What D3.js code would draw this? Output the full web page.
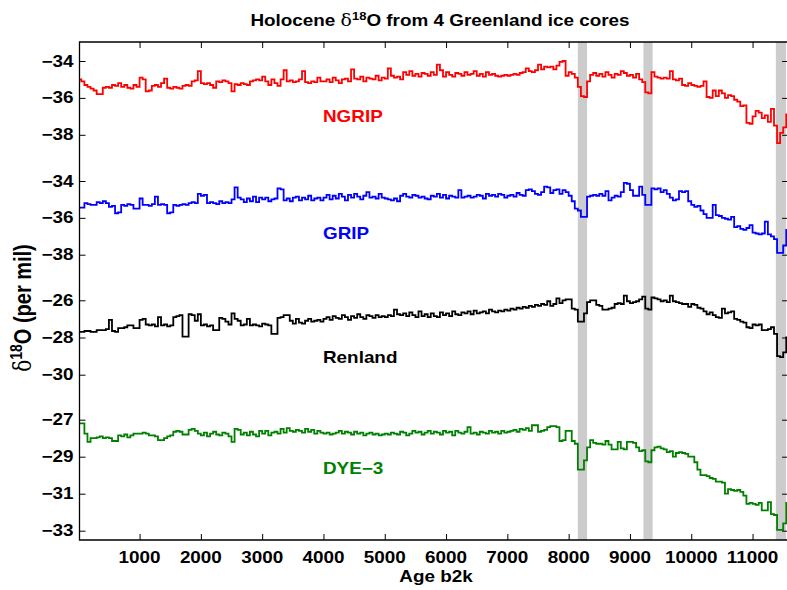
<!DOCTYPE html>
<html>
<head>
<meta charset="utf-8">
<script src="https://cdn.jsdelivr.net/npm/d3@7"></script>
<style>
  body { margin: 0; background: #fff; }
  svg text { font-family: "Liberation Sans", Arial, Helvetica, sans-serif; font-weight: bold; fill: #000; }
</style>
</head>
<body>
<svg id="chart" width="787" height="590"></svg>
<script>
// Age axis: 50-year bins, years before 2000 AD
const ages = d3.range(0, 11600, 50);

// δ18O (per mil), one value per 50-year bin
const ngrip = [
  -35.0,-35.1,-35.3,-35.4,-35.5,-35.6,-35.8,-35.8,-35.45,-35.4,-35.45,-35.3,-35.35,-35.2,-35.4,-35.3,-35.45,-35.5,-35.3,-35.4,
  -34.9,-35.0,-35.65,-35.6,-35.35,-35.3,-35.4,-35.2,-34.95,-35.45,-35.5,-35.4,-35.45,-35.5,-35.35,-35.3,-35.35,-35.1,-35.05,-34.55,
  -35.2,-35.25,-35.2,-35.3,-35.45,-35.1,-35.15,-35.05,-35.1,-35.2,-35.65,-35.25,-35.3,-35.2,-35.25,-35.3,-35.1,-35.05,-35.0,-35.05,
  -34.85,-35.1,-35.3,-35.0,-35.2,-35.35,-35.0,-34.5,-35.1,-35.05,-35.15,-35.1,-35.0,-34.55,-35.15,-35.2,-35.1,-35.15,-34.9,-35.1,
  -35.1,-35.0,-35.15,-34.9,-35.05,-35.2,-35.0,-34.95,-35.1,-34.45,-34.95,-35.0,-34.85,-35.1,-34.9,-34.95,-35.0,-34.8,-35.05,-34.9,
  -34.95,-34.4,-34.8,-34.9,-34.85,-35.0,-34.6,-34.75,-34.55,-34.8,-34.7,-34.85,-34.65,-34.7,-34.8,-34.6,-34.75,-34.2,-34.5,-34.85,
  -34.6,-34.75,-34.85,-34.65,-34.7,-34.8,-34.6,-34.75,-34.7,-34.55,-34.8,-34.7,-34.85,-34.6,-34.75,-34.7,-34.8,-34.85,-34.8,-34.75,
  -34.8,-34.75,-34.7,-34.75,-34.65,-34.6,-34.4,-34.55,-34.6,-34.5,-34.2,-34.45,-34.3,-34.35,-34.3,-34.45,-34.25,-34.05,-34.0,-34.8,
  -34.6,-34.7,-34.9,-35.4,-35.9,-35.95,-35.1,-34.75,-34.65,-34.8,-34.7,-34.85,-34.6,-34.75,-34.9,-34.7,-34.75,-34.55,-34.65,-34.8,
  -34.75,-34.9,-34.7,-35.0,-35.15,-35.7,-35.75,-34.6,-34.85,-34.9,-34.95,-34.9,-34.95,-34.55,-35.0,-35.05,-34.95,-35.3,-35.35,-35.2,
  -35.3,-35.35,-35.4,-35.35,-35.1,-35.95,-36.0,-35.6,-35.9,-35.6,-35.75,-36.0,-35.85,-35.9,-36.1,-36.2,-36.45,-36.4,-37.35,-37.4,
  -37.0,-36.7,-36.8,-37.1,-36.95,-37.3,-36.6,-37.5,-38.45,-37.9,-37.6,-36.85
];
const grip = [
  -35.45,-35.45,-35.2,-35.25,-35.3,-35.3,-35.15,-35.2,-35.1,-35.2,-35.4,-35.35,-35.75,-35.7,-35.3,-35.35,-35.25,-35.3,-35.5,-35.5,
  -34.95,-35.3,-35.3,-35.35,-35.25,-34.85,-35.3,-35.25,-35.3,-35.75,-35.7,-35.3,-35.35,-35.3,-35.25,-35.3,-35.2,-35.15,-35.2,-34.7,
  -34.8,-34.75,-35.2,-35.15,-35.2,-35.25,-35.1,-35.2,-35.15,-35.2,-35.0,-34.35,-34.9,-35.0,-35.15,-34.95,-35.1,-34.85,-35.15,-34.9,
  -35.0,-34.9,-35.1,-35.0,-34.95,-34.4,-34.45,-35.05,-34.95,-35.1,-34.9,-34.85,-35.05,-34.9,-35.0,-34.8,-35.05,-34.95,-34.9,-35.05,
  -34.9,-34.75,-35.0,-34.8,-34.95,-34.7,-34.85,-35.05,-34.75,-34.9,-34.7,-34.85,-35.0,-34.8,-34.6,-34.9,-34.85,-34.95,-34.7,-34.9,
  -34.95,-35.0,-35.05,-34.95,-35.1,-34.8,-34.7,-34.85,-34.9,-34.75,-34.8,-34.9,-34.85,-34.95,-35.0,-34.8,-34.85,-34.7,-34.9,-34.75,
  -34.95,-34.8,-34.85,-34.9,-34.5,-34.9,-34.85,-34.8,-34.9,-34.85,-34.75,-34.8,-34.95,-34.7,-34.8,-34.75,-34.85,-34.7,-34.75,-34.9,
  -34.8,-34.75,-34.85,-34.65,-34.75,-34.8,-34.5,-34.45,-34.55,-34.7,-34.75,-34.6,-34.3,-34.35,-34.65,-34.5,-34.45,-34.7,-34.5,-34.6,
  -34.8,-35.1,-35.5,-35.6,-35.95,-35.95,-34.85,-34.8,-34.75,-34.8,-34.7,-34.8,-34.55,-35.05,-34.9,-34.8,-34.85,-34.6,-34.1,-34.15,
  -34.5,-34.8,-34.8,-34.3,-34.75,-35.3,-35.3,-34.4,-34.45,-34.4,-34.6,-34.5,-34.7,-34.9,-35.05,-35.0,-34.55,-34.6,-34.55,-35.1,
  -35.3,-35.4,-35.35,-35.6,-35.8,-36.0,-36.0,-35.3,-35.85,-35.9,-36.0,-36.05,-36.1,-35.95,-36.5,-36.45,-36.6,-36.65,-36.55,-36.4,
  -36.8,-36.85,-36.9,-36.85,-36.2,-36.9,-37.0,-37.15,-37.9,-37.9,-37.5,-36.6
];
const renland = [
  -27.7,-27.7,-27.65,-27.65,-27.7,-27.7,-27.6,-27.6,-27.6,-27.55,-27.05,-27.65,-27.7,-27.5,-27.5,-27.45,-27.35,-27.35,-27.5,-27.5,
  -27.05,-27.0,-27.3,-27.35,-27.3,-27.4,-26.9,-27.35,-27.3,-27.4,-27.35,-26.9,-26.85,-26.8,-27.95,-27.95,-26.75,-26.8,-27.1,-26.75,
  -27.35,-27.3,-27.4,-27.35,-27.6,-27.6,-26.95,-27.0,-27.15,-27.3,-26.7,-27.0,-27.1,-27.35,-27.3,-27.0,-27.35,-27.3,-27.35,-27.4,
  -27.25,-27.3,-27.35,-27.8,-27.8,-26.95,-26.9,-26.8,-26.8,-27.1,-27.25,-27.0,-27.2,-27.25,-27.1,-27.0,-27.15,-27.1,-27.05,-27.15,
  -27.0,-26.9,-27.05,-26.85,-26.95,-27.0,-26.8,-26.9,-27.05,-26.85,-26.95,-26.75,-26.9,-27.0,-26.8,-26.85,-26.95,-26.8,-26.9,-26.85,
  -26.9,-26.8,-26.85,-26.5,-26.75,-26.8,-26.7,-26.85,-26.65,-26.8,-26.9,-26.6,-26.85,-26.75,-26.9,-26.7,-26.85,-26.9,-26.65,-26.8,
  -26.7,-26.85,-26.6,-26.75,-26.8,-26.65,-26.7,-26.6,-26.75,-26.55,-26.7,-26.65,-26.6,-26.7,-26.5,-26.6,-26.65,-26.55,-26.6,-26.5,
  -26.55,-26.45,-26.5,-26.4,-26.45,-26.35,-26.4,-26.3,-26.35,-26.25,-26.3,-26.2,-26.25,-26.05,-26.3,-26.2,-25.9,-26.15,-26.0,-25.95,
  -25.95,-26.45,-26.5,-27.15,-27.15,-26.7,-26.1,-26.0,-26.0,-26.25,-26.3,-26.5,-26.5,-26.45,-26.4,-26.2,-26.15,-26.2,-25.75,-26.05,
  -26.15,-26.1,-26.05,-25.95,-25.8,-26.45,-26.5,-25.85,-25.9,-25.95,-26.05,-26.0,-26.1,-25.75,-26.05,-26.1,-26.15,-26.2,-26.2,-26.35,
  -26.2,-26.25,-26.4,-26.45,-26.6,-26.75,-26.65,-26.8,-26.9,-26.95,-26.45,-26.7,-26.65,-26.6,-27.0,-27.05,-27.15,-27.2,-27.45,-27.5,
  -27.3,-27.35,-27.3,-27.6,-27.6,-27.55,-27.45,-27.8,-29.0,-29.05,-28.8,-27.95
];
const dye3 = [
  -27.2,-27.2,-27.75,-28.2,-28.0,-28.0,-27.95,-27.9,-28.0,-27.95,-28.0,-28.15,-28.15,-27.85,-27.9,-27.8,-27.95,-27.85,-27.75,-27.75,
  -27.75,-27.7,-27.75,-27.85,-27.85,-27.9,-28.1,-28.1,-28.0,-27.9,-27.85,-27.65,-27.6,-27.65,-27.8,-27.8,-27.55,-27.5,-27.6,-27.75,
  -27.85,-27.7,-27.9,-27.75,-27.65,-27.8,-27.85,-27.7,-27.75,-27.9,-28.2,-27.5,-27.55,-27.8,-27.7,-27.85,-27.65,-27.8,-27.9,-27.6,
  -27.75,-27.6,-27.85,-27.7,-27.65,-27.75,-27.5,-27.7,-27.45,-27.6,-27.65,-27.55,-27.6,-27.7,-27.5,-27.65,-27.55,-27.75,-27.6,-27.7,
  -27.75,-27.7,-27.8,-27.75,-27.7,-27.6,-27.75,-27.65,-27.7,-27.8,-27.65,-27.75,-27.7,-27.85,-27.75,-27.7,-27.8,-27.75,-27.85,-27.8,
  -27.75,-27.8,-27.7,-27.75,-27.8,-27.65,-27.7,-27.85,-27.75,-27.6,-27.7,-27.65,-27.8,-27.7,-27.6,-27.75,-27.65,-27.7,-27.8,-27.6,
  -27.7,-27.65,-27.85,-27.6,-27.7,-27.75,-27.65,-27.4,-27.75,-27.7,-27.8,-27.65,-27.7,-27.75,-27.6,-27.7,-27.65,-27.75,-27.6,-27.7,
  -27.65,-27.6,-27.55,-27.65,-27.5,-27.55,-27.45,-27.6,-27.3,-27.3,-27.65,-27.6,-27.55,-27.4,-27.35,-27.35,-27.4,-28.15,-28.1,-27.6,
  -27.6,-28.15,-28.3,-29.7,-29.7,-29.2,-28.5,-28.1,-28.25,-28.3,-28.3,-28.35,-28.15,-28.35,-28.6,-28.6,-28.2,-28.55,-28.6,-28.2,
  -28.2,-28.25,-28.5,-28.7,-28.65,-29.25,-29.3,-28.65,-28.5,-28.45,-28.55,-28.6,-28.75,-28.7,-29.0,-28.8,-28.75,-28.8,-28.85,-29.0,
  -29.0,-29.3,-29.7,-30.0,-30.0,-30.05,-30.15,-30.2,-30.35,-30.35,-30.4,-31.0,-30.75,-30.8,-30.85,-30.8,-30.9,-31.1,-31.55,-31.5,
  -31.55,-31.6,-31.5,-31.9,-31.9,-31.45,-32.1,-32.15,-32.95,-32.95,-32.6,-31.45
];

// Tick values
const ageTicks = [1000, 2000, 3000, 4000, 5000, 6000, 7000, 8000, 9000, 10000, 11000];
const ngripTicks = [-34, -36, -38];
const gripTicks = [-34, -36, -38];
const renlandTicks = [-26, -28, -30];
const dye3Ticks = [-27, -29, -31, -33];

// Abrupt cooling events (age spans, b2k)
const eventStarts = [8150, 9220, 11380];
const eventEnds = [8300, 9370, 11545];

// Core names
const coreNames = ["NGRIP", "GRIP", "Renland", "DYE\u22123"];

// ---------------------------------------------------------------
const svg = d3.select("#chart");
const plot = { left: 79.5, right: 788.1, top: 42, bottom: 540 };
const sx = 1.18; // horizontal glyph stretch
const minus = v => String(v).replace("-", "\u2212");

const x = d3.scaleLinear().domain([20, 11580]).range([plot.left, plot.right]);

const cores = [
  { name: coreNames[0], values: ngrip,   ticks: ngripTicks,   domain: [-34, -38], range: [61, 134.8],   color: "#ff0000", label: [323, 122] },
  { name: coreNames[1], values: grip,    ticks: gripTicks,    domain: [-34, -38], range: [181, 254.7],  color: "#0000ff", label: [323, 239] },
  { name: coreNames[2], values: renland, ticks: renlandTicks, domain: [-26, -30], range: [300.3, 374.7], color: "#000000", label: [323, 363] },
  { name: coreNames[3], values: dye3,    ticks: dye3Ticks,    domain: [-27, -33], range: [419.7, 530.7], color: "#008000", label: [323, 474] }
];
cores.forEach(c => { c.y = d3.scaleLinear().domain(c.domain).range(c.range); });

svg.append("defs").append("clipPath").attr("id", "plotClip")
  .append("rect")
  .attr("x", plot.left).attr("y", plot.top)
  .attr("width", plot.right - plot.left).attr("height", plot.bottom - plot.top);

// Event bands
svg.append("g").attr("clip-path", "url(#plotClip)")
  .selectAll("rect").data(eventStarts).join("rect")
  .attr("x", (d, i) => x(d))
  .attr("width", (d, i) => x(eventEnds[i]) - x(d))
  .attr("y", plot.top).attr("height", plot.bottom - plot.top)
  .attr("fill", "#cccccc");

// Stepped isotope records
const lines = svg.append("g").attr("clip-path", "url(#plotClip)");
cores.forEach(c => {
  const line = d3.line()
    .x((d, i) => x(ages[i]))
    .y(d => c.y(d))
    .curve(d3.curveStepAfter);
  lines.append("path")
    .datum(c.values)
    .attr("d", line)
    .attr("fill", "none")
    .attr("stroke", c.color)
    .attr("stroke-width", 1.8)
    .attr("stroke-linejoin", "miter");
});

// Core name labels
cores.forEach(c => {
  svg.append("text")
    .attr("transform", `translate(${c.label[0]},${c.label[1]}) scale(${sx},1)`)
    .attr("font-size", 16)
    .style("fill", c.color)
    .text(c.name);
});

// Axes frame
const frame = svg.append("g").attr("stroke", "#000").attr("fill", "none");
frame.append("path")
  .attr("d", `M${plot.right},${plot.top}H${plot.left}V${plot.bottom}H${plot.right}V${plot.top}`)
  .attr("stroke-width", 1.3);

// X axis (bottom and top, ticks pointing inward)
const xBottom = d3.axisBottom(x).tickValues(ageTicks).tickSize(-6).tickSizeOuter(0).tickFormat("");
const xTop = d3.axisTop(x).tickValues(ageTicks).tickSize(-6).tickSizeOuter(0).tickFormat("");
svg.append("g").attr("transform", `translate(0,${plot.bottom})`).call(xBottom)
  .call(g => g.select(".domain").remove())
  .call(g => g.selectAll("line").attr("stroke", "#000").attr("stroke-width", 1));
svg.append("g").attr("transform", `translate(0,${plot.top})`).call(xTop)
  .call(g => g.select(".domain").remove())
  .call(g => g.selectAll("line").attr("stroke", "#000").attr("stroke-width", 1));

svg.append("g").selectAll("text").data(ageTicks).join("text")
  .attr("transform", d => `translate(${x(d)},563) scale(${sx},1)`)
  .attr("text-anchor", "middle")
  .attr("font-size", 16)
  .text(d => d);

// Y axes, one per core (left labelled, right ticks only)
cores.forEach(c => {
  const left = d3.axisLeft(c.y).tickValues(c.ticks).tickSize(-6).tickSizeOuter(0).tickFormat("");
  const right = d3.axisRight(c.y).tickValues(c.ticks).tickSize(-6).tickSizeOuter(0).tickFormat("");
  svg.append("g").attr("transform", `translate(${plot.left},0)`).call(left)
    .call(g => g.select(".domain").remove())
    .call(g => g.selectAll("line").attr("stroke", "#000").attr("stroke-width", 1));
  svg.append("g").attr("transform", `translate(${plot.right},0)`).call(right)
    .call(g => g.select(".domain").remove())
    .call(g => g.selectAll("line").attr("stroke", "#000").attr("stroke-width", 1));
  svg.append("g").selectAll("text").data(c.ticks).join("text")
    .attr("transform", d => `translate(${plot.left - 6},${c.y(d) + 5.5}) scale(${sx},1)`)
    .attr("text-anchor", "end")
    .attr("font-size", 16)
    .text(d => minus(d));
});

// Title
const title = svg.append("text")
  .attr("transform", `translate(440,26) scale(${sx},1)`)
  .attr("text-anchor", "middle")
  .attr("font-size", 16);
title.append("tspan").text("Holocene ");
title.append("tspan").style("font-family", "'DejaVu Serif', serif").style("font-weight", "normal").text("\u03b4");
title.append("tspan").attr("dy", -6).attr("font-size", 11).text("18");
title.append("tspan").attr("dy", 6).text("O from 4 Greenland ice cores");

// Axis titles
svg.append("text")
  .attr("transform", `translate(436,582) scale(${sx},1)`)
  .attr("text-anchor", "middle")
  .attr("font-size", 16)
  .text("Age b2k");

const ylab = svg.append("text")
  .attr("transform", `translate(31,308) scale(${sx},1) rotate(-90)`)
  .attr("text-anchor", "middle")
  .attr("font-size", 20);
ylab.append("tspan").style("font-family", "'DejaVu Serif', serif").style("font-weight", "normal").text("\u03b4");
ylab.append("tspan").attr("dy", -8).attr("font-size", 14).text("18");
ylab.append("tspan").attr("dy", 8).text("O (per mil)");
</script>
</body>
</html>
